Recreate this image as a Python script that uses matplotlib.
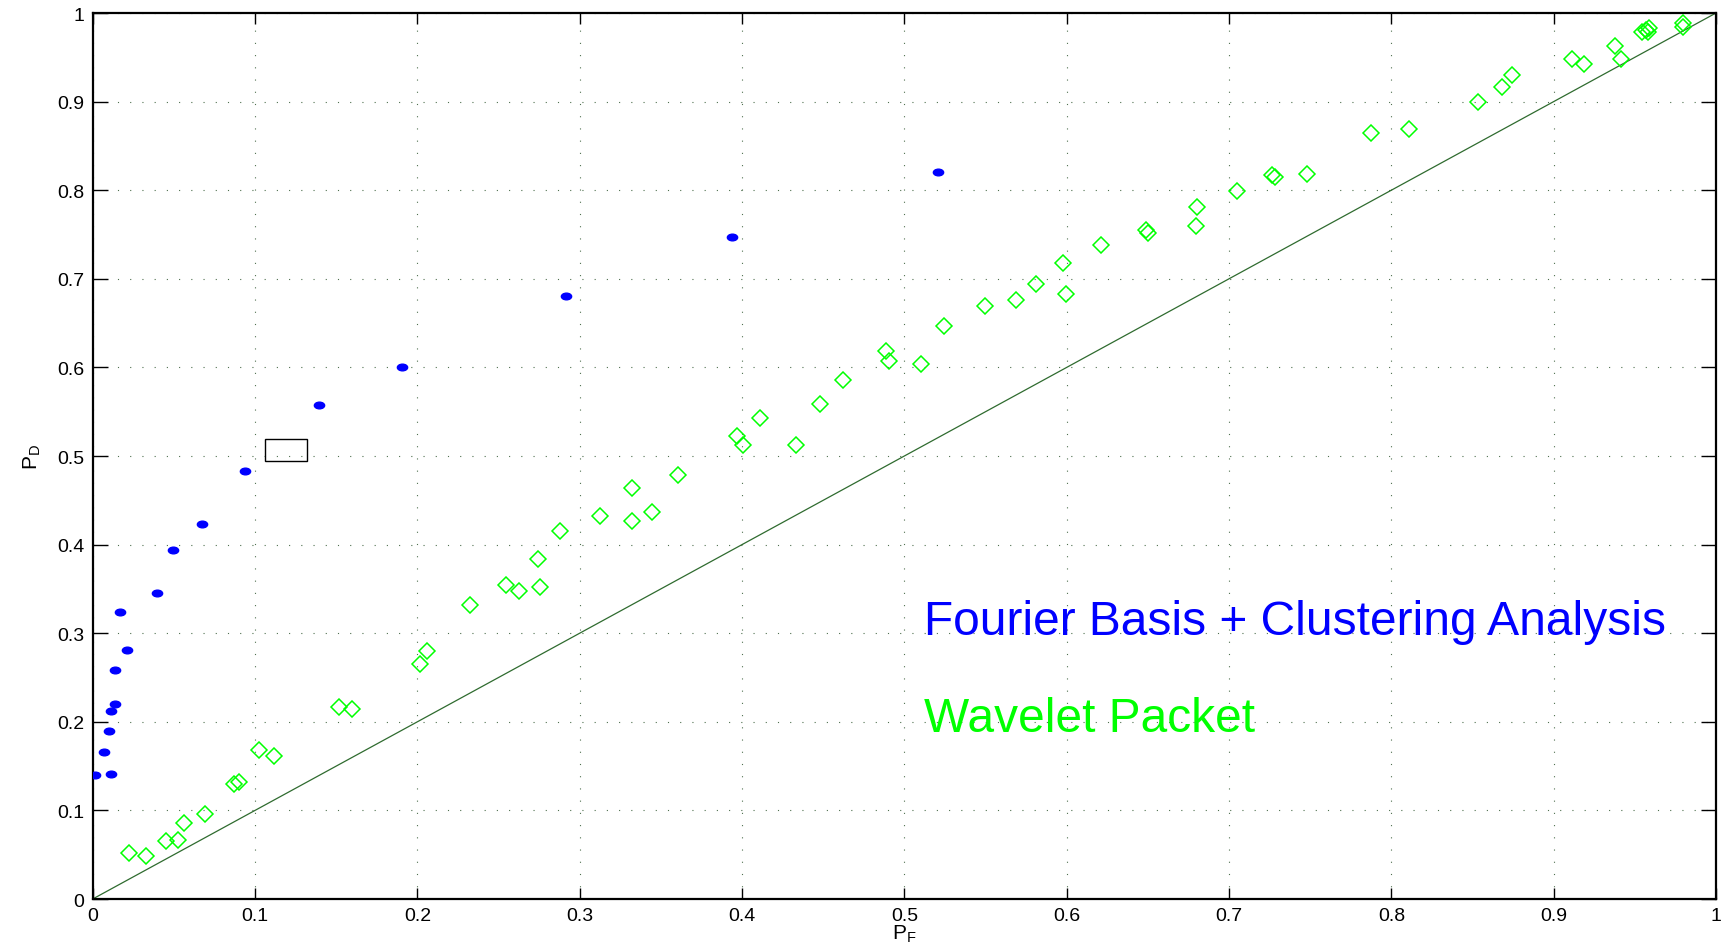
import matplotlib
matplotlib.use("Agg")
from matplotlib import pyplot as plt
from matplotlib.path import Path
from matplotlib.transforms import Affine2D
from matplotlib.patches import Rectangle

plt.rcParams['font.family'] = ['Liberation Sans', 'DejaVu Sans']

# Fourier basis + clustering analysis (PF, PD)
fourier_pf = [0.0014, 0.0113, 0.0072, 0.0098, 0.0113, 0.0137, 0.0137, 0.0213, 0.0168,
              0.0398, 0.0495, 0.0673, 0.0936, 0.1393, 0.1907, 0.2918, 0.394, 0.5206]
fourier_pd = [0.140, 0.141, 0.166, 0.190, 0.2125, 0.220, 0.259, 0.281, 0.324,
              0.345, 0.394, 0.423, 0.483, 0.558, 0.601, 0.6805, 0.747, 0.821]

# Wavelet packet (PF, PD)
wavelet_pf = [0.0226, 0.0326, 0.045, 0.0528, 0.0563, 0.069, 0.087, 0.090, 0.1027, 0.112,
              0.1516, 0.160, 0.2014, 0.2062, 0.2323, 0.2545, 0.2627, 0.2756, 0.2743, 0.2881,
              0.3127, 0.3324, 0.3324, 0.3447, 0.3607, 0.3967, 0.4005, 0.411, 0.433, 0.4478,
              0.4624, 0.4889, 0.4904, 0.5101, 0.5242, 0.5494, 0.5685, 0.5812, 0.5979, 0.5993,
              0.6214, 0.6487, 0.6504, 0.6805, 0.6798, 0.7049, 0.7263, 0.7285, 0.7478, 0.7876,
              0.8111, 0.8534, 0.8682, 0.8745, 0.9115, 0.9185, 0.938, 0.9413, 0.9545, 0.957,
              0.959, 0.958, 0.9795, 0.9795]
wavelet_pd = [0.052, 0.049, 0.065, 0.067, 0.0854, 0.096, 0.130, 0.132, 0.168, 0.161,
              0.217, 0.214, 0.2653, 0.280, 0.332, 0.354, 0.348, 0.3523, 0.384, 0.415,
              0.432, 0.427, 0.464, 0.437, 0.479, 0.523, 0.512, 0.543, 0.512, 0.559,
              0.586, 0.619, 0.607, 0.604, 0.647, 0.669, 0.676, 0.694, 0.718, 0.683,
              0.738, 0.755, 0.752, 0.781, 0.7594, 0.7992, 0.817, 0.815, 0.818, 0.865,
              0.869, 0.900, 0.916, 0.930, 0.948, 0.942, 0.963, 0.948, 0.979, 0.981,
              0.983, 0.979, 0.989, 0.984]

ticks = [0, 0.1, 0.2, 0.3, 0.4, 0.5, 0.6, 0.7, 0.8, 0.9, 1]
tick_labels = ["0", "0.1", "0.2", "0.3", "0.4", "0.5", "0.6", "0.7", "0.8", "0.9", "1"]

fig = plt.figure(figsize=(17.26, 9.53), dpi=100)
ax = fig.add_axes([0.0537, 0.0556, 0.9405, 0.9297])

# flat ellipse marker for the blue dots
ellipse = Path.unit_circle().transformed(Affine2D().scale(1.0, 0.65))

ax.plot([0, 1], [0, 1], color="#2f6b2f", lw=0.9, zorder=2)
ax.plot(wavelet_pf, wavelet_pd, linestyle="none", marker="D", ms=8.3,
        mfc="none", mec="#00ff00", mew=1.1, zorder=3)
ax.plot(fourier_pf, fourier_pd, linestyle="none", marker=ellipse, ms=7.4,
        mfc="#0000ff", mec="#0000ff", zorder=4)

ax.add_patch(Rectangle((0.1063, 0.494), 0.0255, 0.025, fill=False,
                       edgecolor="black", lw=1.0, zorder=5))

ax.text(0.512, 0.299, "Fourier Basis + Clustering Analysis", color="#0000ff", fontsize=34.5)
ax.text(0.512, 0.190, "Wavelet Packet", color="#00ff00", fontsize=34.5)

ax.set_xlim(0, 1)
ax.set_ylim(0, 1)
ax.set_xticks(ticks)
ax.set_xticklabels(tick_labels)
ax.set_yticks(ticks)
ax.set_yticklabels(tick_labels)
ax.grid(True, color="#4f704f", linestyle=(0, (1, 10)), lw=0.8)
ax.tick_params(axis="both", direction="in", top=True, right=True,
               labelsize=14, width=1.0, pad=6)
ax.tick_params(axis="x", length=8)
ax.tick_params(axis="y", length=11)
for s in ax.spines.values():
    s.set_linewidth(1.6)

ax.set_xlabel(r"$\mathregular{P_F}$", fontsize=15, labelpad=-1)
ax.set_ylabel(r"$\mathregular{P_D}$", fontsize=15, labelpad=10)

fig.savefig("out.png", dpi=100)
